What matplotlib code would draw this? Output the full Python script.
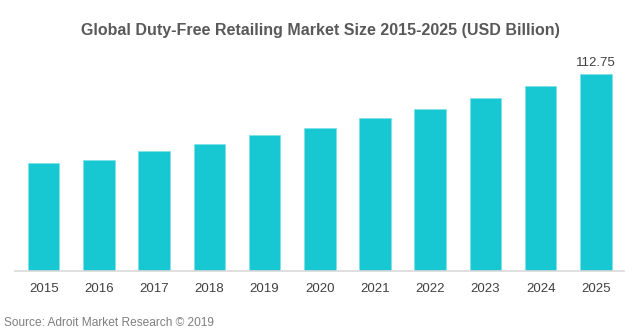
import matplotlib.pyplot as plt

plt.rcParams['font.family'] = ['Liberation Sans', 'DejaVu Sans']

years = ['2015', '2016', '2017', '2018', '2019', '2020', '2021', '2022', '2023', '2024', '2025']
market_size = [61.8, 63.1, 68.3, 72.6, 77.6, 81.6, 87.4, 92.4, 98.8, 105.9, 112.75]

fig = plt.figure(figsize=(6.4, 3.32), dpi=100)
ax = fig.add_axes([15/640, 0.185, 609/640, 0.631])

x = range(len(years))
ax.bar(x, market_size, width=0.57, color='#17c7d2', edgecolor='#7fe3e8', linewidth=0.6, zorder=2)

# only the last bar carries a value label
ax.text(len(years) - 1, market_size[-1] + 3, f'{market_size[-1]:.2f}',
        ha='center', va='bottom', fontsize=9.5, color='#404040')

ax.set_xlim(-0.52, len(years) - 0.49)
ax.set_ylim(0, 120)
ax.set_xticks(list(x))
ax.set_xticklabels(years, fontsize=9.5, color='#404040')
ax.tick_params(axis='x', length=0, pad=9)
ax.set_yticks([])
for side in ['top', 'right', 'left']:
    ax.spines[side].set_visible(False)
ax.spines['bottom'].set_color('#d9d9d9')
ax.spines['bottom'].set_linewidth(1.2)

fig.text(0.5, 1 - 31/332, 'Global Duty-Free Retailing Market Size 2015-2025 (USD Billion)',
         ha='center', va='center', fontsize=11.5, fontweight='bold', color='#595959')
fig.text(4/640, 1 - 323/332, 'Source: Adroit Market Research \u00a9 2019',
         ha='left', va='center', fontsize=8.6, color='#7f7f7f')

fig.savefig('out.png', dpi=100)
